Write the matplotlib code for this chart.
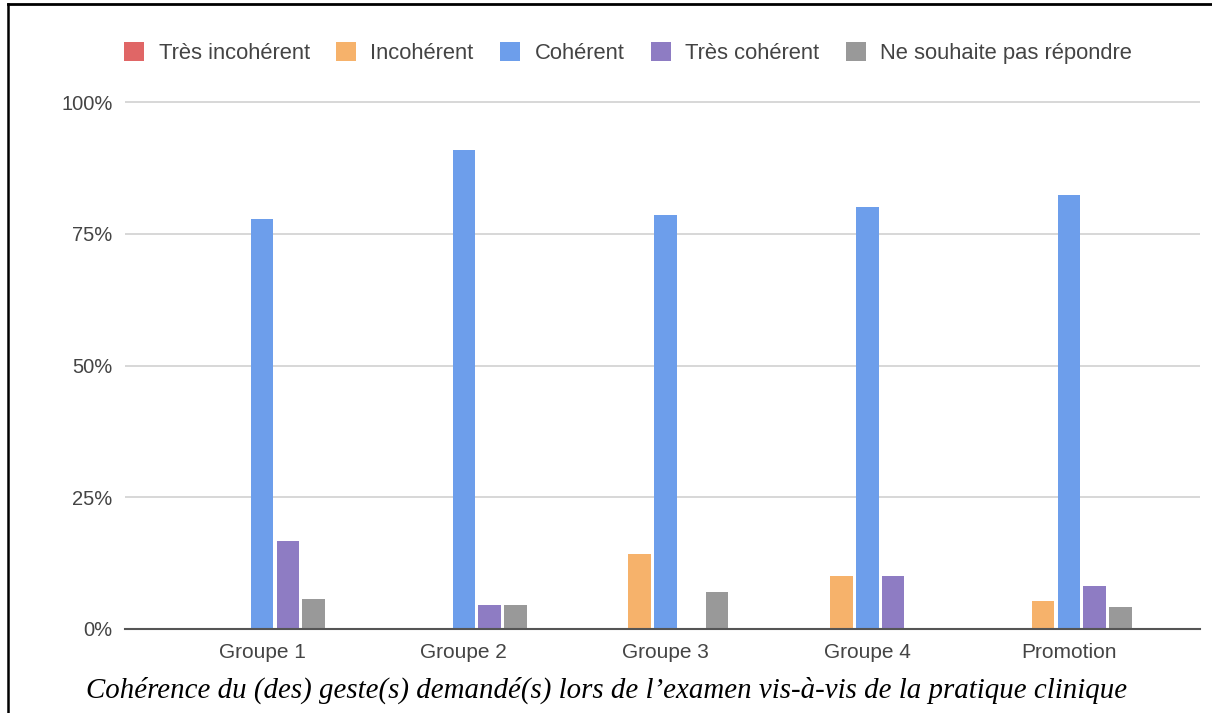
import matplotlib
matplotlib.use("Agg")
import numpy as np
import matplotlib.pyplot as plt
from matplotlib.lines import Line2D
import matplotlib.ticker as ticker

# values (percent of respondents per group)
GROUPS = ["Groupe 1", "Groupe 2", "Groupe 3", "Groupe 4", "Promotion"]
SERIES = ["Très incohérent", "Incohérent", "Cohérent", "Très cohérent", "Ne souhaite pas répondre"]
tres_incoherent = [0.0, 0.0, 0.0, 0.0, 0.0]
incoherent = [0.0, 0.0, 14.3, 10.0, 5.4]
coherent = [77.8, 90.9, 78.6, 80.0, 82.4]
tres_coherent = [16.7, 4.5, 0.0, 10.0, 8.1]
ne_souhaite_pas = [5.6, 4.5, 7.1, 0.0, 4.1]
YTICKS = [0, 25, 50, 75, 100]
CAPTION = "Cohérence du (des) geste(s) demandé(s) lors de l\u2019examen vis-à-vis de la pratique clinique"

COLORS = ["#e06666", "#f6b26b", "#6d9eeb", "#8e7cc3", "#999999"]
TEXT = "#444444"

W, H = 1212, 713
fig = plt.figure(figsize=(W / 100, H / 100), dpi=100)
fig.patch.set_facecolor("white")

# axes placed in pixels: 0% at y=629, 1% ~ 5.27 px, x from 125 to 1200
y0, ppu, ytop = 629, 5.27, 102
ax = fig.add_axes([125 / W, (H - y0) / H, 1075 / W, ytop * ppu / H])

x = np.arange(len(GROUPS))
width, pitch = 0.112, 0.128
all_series = [tres_incoherent, incoherent, coherent, tres_coherent, ne_souhaite_pas]
for i, (name, vals, col) in enumerate(zip(SERIES, all_series, COLORS)):
    ax.bar(x + (i - 2) * pitch, vals, width=width, color=col, label=name, zorder=3)

ax.set_xlim(-0.68, 4.65)
ax.set_ylim(0, ytop)
ax.set_yticks(YTICKS)
ax.yaxis.set_major_formatter(ticker.FuncFormatter(lambda v, _: f"{v:.0f}%"))
ax.set_xticks(x)
ax.set_xticklabels(GROUPS)
ax.grid(axis="y", color="#d4d4d4", linewidth=1.3, zorder=0)
ax.tick_params(axis="y", length=0, labelsize=14.5, labelcolor=TEXT,
               labelfontfamily="Liberation Sans", pad=9)
ax.tick_params(axis="x", length=0, labelsize=15, labelcolor=TEXT,
               labelfontfamily="Liberation Sans", pad=10)
for s in ["top", "right", "left"]:
    ax.spines[s].set_visible(False)
ax.spines["bottom"].set_color("#555555")
ax.spines["bottom"].set_linewidth(1.5)
ax.spines["bottom"].set_zorder(4)

fig.legend(*ax.get_legend_handles_labels(), loc="center", bbox_to_anchor=(628 / W, 1 - 53 / H),
           ncol=5, frameon=False, prop={"family": "Liberation Sans", "size": 15.8},
           labelcolor=TEXT, handlelength=0.92, handleheight=0.92, handletextpad=0.65,
           columnspacing=1.2, borderpad=0)

fig.text(607 / W, 1 - 690 / H, CAPTION, ha="center", va="center", fontsize=20.8,
         family="Liberation Serif", style="italic", color="black")

# page frame (left and top edges of the surrounding table cell)
fig.add_artist(Line2D([8 / W, 8 / W], [0, 1 - 3.5 / H], color="black", linewidth=1.8))
fig.add_artist(Line2D([8 / W, 1], [1 - 4 / H, 1 - 4 / H], color="black", linewidth=2.0))

fig.savefig("out.png", dpi=100)
